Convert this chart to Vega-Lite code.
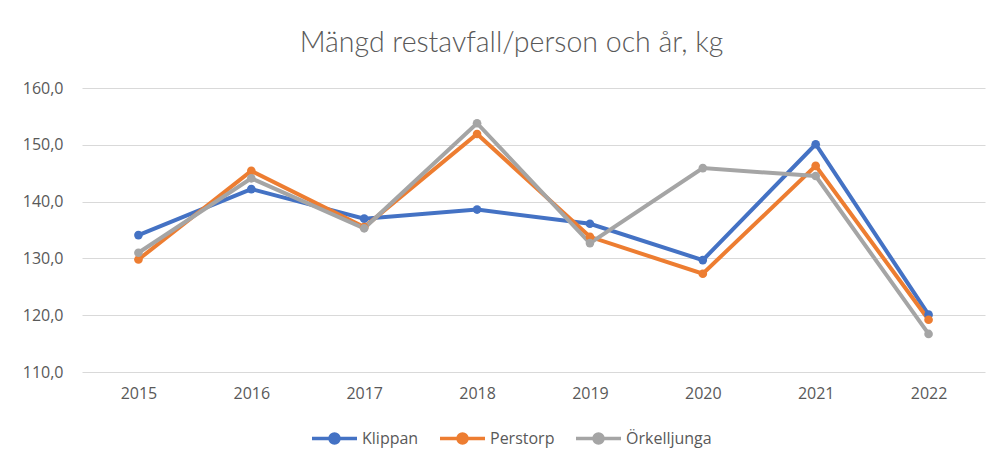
{
  "$schema": "https://vega.github.io/schema/vega-lite/v6.json",
  "autosize": "none",
  "width": 903,
  "height": 284,
  "padding": {"left": 82, "top": 88, "right": 10, "bottom": 90},
  "background": "white",
  "config": {
    "locale": {"number": {"decimal": ",", "thousands": " ", "grouping": [3], "currency": ["", " kr"]}},
    "view": {"stroke": null},
    "font": "Open Sans"
  },
  "title": {
    "text": "Mängd restavfall/person och år, kg",
    "font": "Lato",
    "fontSize": 28.5,
    "fontWeight": 300,
    "color": "#595959",
    "anchor": "middle",
    "dx": -22,
    "offset": 23
  },
  "data": {
    "values": [
      {"year": "2015", "kommun": "Klippan", "value": 134.1},
      {"year": "2016", "kommun": "Klippan", "value": 142.2},
      {"year": "2017", "kommun": "Klippan", "value": 137.0},
      {"year": "2018", "kommun": "Klippan", "value": 138.6},
      {"year": "2019", "kommun": "Klippan", "value": 136.1},
      {"year": "2020", "kommun": "Klippan", "value": 129.7},
      {"year": "2021", "kommun": "Klippan", "value": 150.1},
      {"year": "2022", "kommun": "Klippan", "value": 120.1},
      {"year": "2015", "kommun": "Perstorp", "value": 129.8},
      {"year": "2016", "kommun": "Perstorp", "value": 145.4},
      {"year": "2017", "kommun": "Perstorp", "value": 135.5},
      {"year": "2018", "kommun": "Perstorp", "value": 151.9},
      {"year": "2019", "kommun": "Perstorp", "value": 133.8},
      {"year": "2020", "kommun": "Perstorp", "value": 127.3},
      {"year": "2021", "kommun": "Perstorp", "value": 146.3},
      {"year": "2022", "kommun": "Perstorp", "value": 119.2},
      {"year": "2015", "kommun": "Örkelljunga", "value": 131.0},
      {"year": "2016", "kommun": "Örkelljunga", "value": 144.1},
      {"year": "2017", "kommun": "Örkelljunga", "value": 135.3},
      {"year": "2018", "kommun": "Örkelljunga", "value": 153.8},
      {"year": "2019", "kommun": "Örkelljunga", "value": 132.7},
      {"year": "2020", "kommun": "Örkelljunga", "value": 145.9},
      {"year": "2021", "kommun": "Örkelljunga", "value": 144.5},
      {"year": "2022", "kommun": "Örkelljunga", "value": 116.7}
    ]
  },
  "encoding": {
    "x": {
      "field": "year",
      "type": "ordinal",
      "scale": {"type": "point", "padding": 0.5},
      "axis": {
        "title": null,
        "labelAngle": 0,
        "domain": false,
        "ticks": false,
        "grid": false,
        "labelFont": "Open Sans",
        "labelFontSize": 16,
        "labelColor": "#595959",
        "labelPadding": 13
      }
    },
    "y": {
      "field": "value",
      "type": "quantitative",
      "scale": {"domain": [110, 160], "nice": false, "zero": false},
      "axis": {
        "title": null,
        "values": [110, 120, 130, 140, 150, 160],
        "format": ".1f",
        "domain": false,
        "ticks": false,
        "grid": true,
        "gridColor": "#D9D9D9",
        "gridWidth": 1,
        "labelFont": "Open Sans",
        "labelFontSize": 16,
        "labelColor": "#595959",
        "labelPadding": 19
      }
    },
    "color": {
      "field": "kommun",
      "type": "nominal",
      "scale": {"domain": ["Klippan", "Perstorp", "Örkelljunga"], "range": ["#4472C4", "#ED7D31", "#A5A5A5"]},
      "legend": {
        "title": null,
        "orient": "none",
        "direction": "horizontal",
        "legendX": 228,
        "legendY": 326,
        "symbolType": "M -1 0 L 1 0 M 0.2 0 A 0.2 0.2 0 1 1 -0.2 0 A 0.2 0.2 0 1 1 0.2 0 Z",
        "symbolSize": 2025,
        "symbolStrokeWidth": 3.5,
        "labelFont": "Open Sans",
        "labelFontSize": 16,
        "labelColor": "#595959",
        "labelOffset": 3,
        "columnPadding": 14,
        "encode": {
          "symbols": {"update": {"fill": {"scale": "color", "field": "value"}, "stroke": {"scale": "color", "field": "value"}, "opacity": {"value": 1}}}
        }
      }
    }
  },
  "layer": [
    {"mark": {"type": "line", "strokeWidth": 4}},
    {"mark": {"type": "circle", "size": 75, "opacity": 1}}
  ]
}
